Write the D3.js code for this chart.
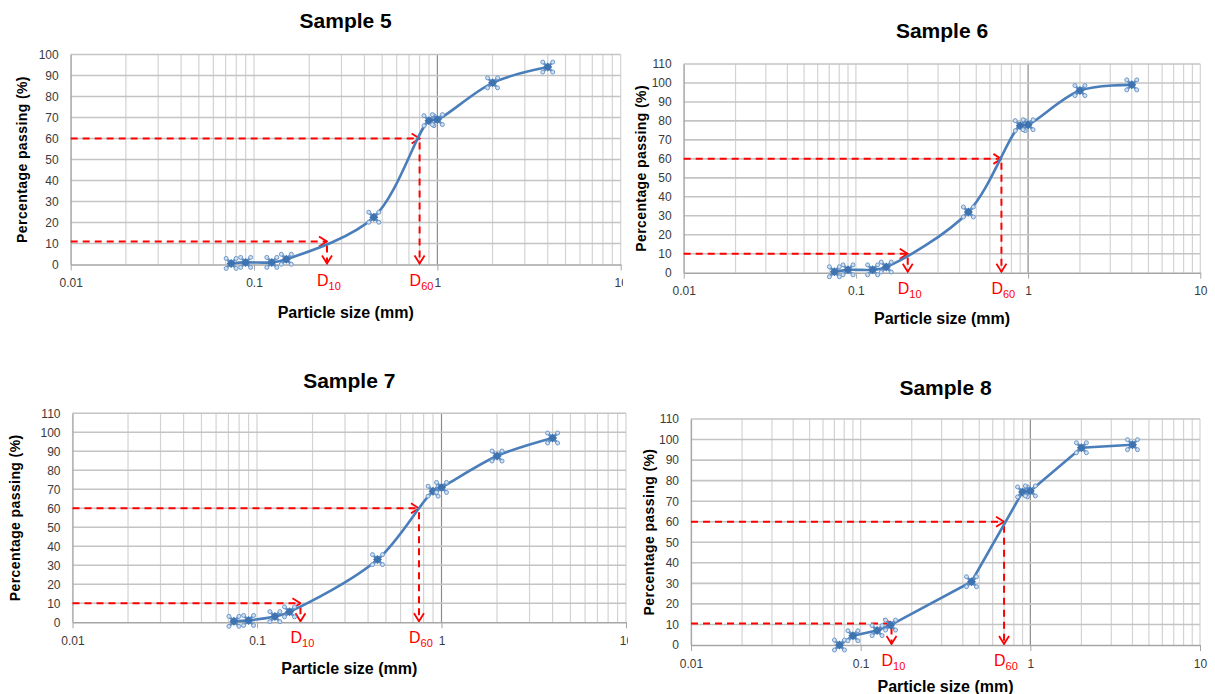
<!DOCTYPE html>
<html>
<head>
<meta charset="utf-8">
<script src="https://cdn.jsdelivr.net/npm/d3@7"></script>
<style>
  body { margin: 0; background: #fff; }
  svg text { font-family: 'Liberation Sans Narrow', 'Arial Narrow', sans-serif; }
</style>
</head>
<body>
<svg id="chart" width="1215" height="694"></svg>
<script>
// sieve sizes (mm), shared by all four samples
const sieveSizes = [0.075, 0.09, 0.125, 0.15, 0.45, 0.9, 1.0, 2.0, 4.0]

// percentage passing
const passingSample5 = [0.5, 1, 1, 2.5, 22.5, 68.5, 69, 86.5, 94]
const passingSample6 = [0.5, 1.5, 1.5, 3, 32, 77.5, 78, 96, 99]
const passingSample7 = [0.5, 1, 3, 5.5, 33, 69, 71, 87.5, 97]
const passingSample8 = [0, 4.5, 7, 9.7, 30.8, 74.5, 75, 96, 97.5]

// D10 / D60 construction points: [size (mm), % passing]
const d10Sample5 = [0.25, 11]
const d60Sample5 = [0.8, 60]
const d10Sample6 = [0.2, 10]
const d60Sample6 = [0.7, 60]
const d10Sample7 = [0.172, 10]
const d60Sample7 = [0.755, 60]
const d10Sample8 = [0.152, 10.5]
const d60Sample8 = [0.7, 60]

const xTickValues = [0.01, 0.1, 1, 10]

const panels = [
  { title: 'Sample 5', passing: passingSample5, d10: d10Sample5, d60: d60Sample5, smooth: true, yMax: 100,
    left: 70.7, right: 620.7, top: 54.5, bottom: 264.5, titleY: 28, yTitleX: 27, xTitleY: 318, bg: null },
  { title: 'Sample 6', passing: passingSample6, d10: d10Sample6, d60: d60Sample6, smooth: true, yMax: 110,
    left: 683.7, right: 1200.3, top: 64, bottom: 272.7, titleY: 38, yTitleX: 646, xTitleY: 324, bg: [623, 0, 592, 345] },
  { title: 'Sample 7', passing: passingSample7, d10: d10Sample7, d60: d60Sample7, smooth: true, yMax: 110,
    left: 72.5, right: 626, top: 413.3, bottom: 622.3, titleY: 388, yTitleX: 20, xTitleY: 674, bg: null },
  { title: 'Sample 8', passing: passingSample8, d10: d10Sample8, d60: d60Sample8, smooth: false, yMax: 110,
    left: 691, right: 1200, top: 419, bottom: 645, titleY: 395, yTitleX: 654, xTitleY: 692, bg: [628, 345, 587, 349] }
]

const svg = d3.select('#chart')

// arrow head for the red construction lines
svg.append('defs').append('marker')
  .attr('id', 'chevron')
  .attr('viewBox', '-1 -6 10 12')
  .attr('markerUnits', 'userSpaceOnUse')
  .attr('markerWidth', 10)
  .attr('markerHeight', 12)
  .attr('refX', 8)
  .attr('refY', 0)
  .attr('orient', 'auto')
  .append('path')
  .attr('d', 'M0,-5L8,0L0,5')
  .attr('fill', 'none')
  .attr('stroke', '#ff0000')
  .attr('stroke-width', 1.8)

const drawPanel = p => {
  const g = svg.append('g')

  if (p.bg) {
    g.append('rect')
      .attr('x', p.bg[0]).attr('y', p.bg[1])
      .attr('width', p.bg[2]).attr('height', p.bg[3])
      .attr('fill', '#fff')
  }

  const xScale = d3.scaleLog().domain([0.01, 10]).range([p.left, p.right])
  const yScale = d3.scaleLinear().domain([0, p.yMax]).range([p.bottom, p.top])

  // vertical log gridlines
  const vLines = []
  ;[0.01, 0.1, 1].forEach(dec => d3.range(1, 10).forEach(k => vLines.push(k * dec)))
  vLines.push(10)
  g.append('g').selectAll('line')
    .data(vLines)
    .enter().append('line')
    .attr('x1', d => xScale(d)).attr('x2', d => xScale(d))
    .attr('y1', p.top).attr('y2', p.bottom)
    .attr('stroke', d => Math.abs(d - 1) < 1e-9 ? '#8c8c8c' : '#d3d3d3')
    .attr('stroke-width', 1.2)

  // horizontal gridlines
  const yTicks = d3.range(0, p.yMax + 1, 10)
  g.append('g').selectAll('line')
    .data(yTicks.slice(1))
    .enter().append('line')
    .attr('x1', p.left).attr('x2', p.right)
    .attr('y1', d => yScale(d)).attr('y2', d => yScale(d))
    .attr('stroke', '#c4c4c4')
    .attr('stroke-width', 1.6)

  // axes
  const xAxis = d3.axisBottom(xScale)
    .tickValues(xTickValues)
    .tickFormat(d => String(d))
    .tickSizeInner(6)
    .tickSizeOuter(0)
    .tickPadding(8)
  const xAxisG = g.append('g')
    .attr('transform', `translate(0, ${p.bottom})`)
    .call(xAxis)
  xAxisG.select('.domain').attr('stroke', '#a6a6a6').attr('stroke-width', 1.6)
  xAxisG.selectAll('.tick line').attr('stroke', '#a6a6a6')

  const yAxis = d3.axisLeft(yScale)
    .tickValues(yTicks)
    .tickSize(0)
    .tickPadding(12)
  const yAxisG = g.append('g')
    .attr('transform', `translate(${p.left}, 0)`)
    .call(yAxis)
  yAxisG.select('.domain').attr('stroke', '#a6a6a6').attr('stroke-width', 1.2)

  g.selectAll('.tick text')
    .attr('fill', '#3a3a3a')
    .style('font-size', '12px')

  // titles
  const cx = (p.left + p.right) / 2
  g.append('text')
    .attr('x', cx).attr('y', p.titleY)
    .attr('text-anchor', 'middle')
    .style('font-size', '21px').style('font-weight', 'bold')
    .text(p.title)
  g.append('text')
    .attr('x', cx).attr('y', p.xTitleY)
    .attr('text-anchor', 'middle')
    .style('font-size', '16px').style('font-weight', 'bold')
    .text('Particle size (mm)')
  g.append('text')
    .attr('transform', `translate(${p.yTitleX}, ${(p.top + p.bottom) / 2}) rotate(-90)`)
    .attr('text-anchor', 'middle')
    .style('font-family', 'Liberation Sans, Arial, sans-serif')
    .style('font-size', '14px').style('font-weight', 'bold')
    .style('letter-spacing', '0.4px')
    .text('Percentage passing (%)')

  // red construction lines for D10 and D60
  ;[p.d10, p.d60].forEach(pt => {
    const px = xScale(pt[0])
    const py = yScale(pt[1])
    g.append('line')
      .attr('x1', p.left).attr('y1', py)
      .attr('x2', px).attr('y2', py)
      .attr('stroke', '#ff0000').attr('stroke-width', 2)
      .attr('stroke-dasharray', '7,5')
      .attr('marker-end', 'url(#chevron)')
    g.append('line')
      .attr('x1', px).attr('y1', py + 4)
      .attr('x2', px).attr('y2', yScale(0) - 1)
      .attr('stroke', '#ff0000').attr('stroke-width', 2)
      .attr('stroke-dasharray', '7,5')
      .attr('marker-end', 'url(#chevron)')
  })

  ;[[p.d10, '10'], [p.d60, '60']].forEach(([pt, sub]) => {
    const t = g.append('text')
      .attr('x', xScale(pt[0]) - 10)
      .attr('y', p.bottom + 21)
      .attr('fill', '#ff0000')
      .style('font-size', '16px')
    t.append('tspan').text('D')
    t.append('tspan').attr('dy', 4).style('font-size', '11px').text(sub)
  })

  // grading curve
  const pts = sieveSizes.map((s, i) => [xScale(s), yScale(p.passing[i])])
  g.append('path')
    .datum(pts)
    .attr('fill', 'none')
    .attr('stroke', '#4a7ebb')
    .attr('stroke-width', 2.6)
    .attr('d', d3.line().curve(p.smooth ? d3.curveCatmullRom.alpha(0.5) : d3.curveLinear))

  // markers (Excel style x with selection handles)
  const mk = g.append('g').selectAll('g')
    .data(pts)
    .enter().append('g')
    .attr('transform', d => `translate(${d[0]}, ${d[1]})`)
  mk.append('path')
    .attr('d', 'M-5,-5L5,5M-5,5L5,-5')
    .attr('stroke', '#5b8cc4').attr('stroke-width', 2.6)
  mk.append('path')
    .attr('d', 'M0,-4.5L4.5,0L0,4.5L-4.5,0Z')
    .attr('fill', '#3f73b0')
  ;[[-5, -5], [5, -5], [-5, 5], [5, 5]].forEach(c => {
    mk.append('circle')
      .attr('cx', c[0]).attr('cy', c[1]).attr('r', 2)
      .attr('fill', '#cfe0f3').attr('stroke', '#6f98c8').attr('stroke-width', 1)
  })
}

panels.forEach(drawPanel)
</script>
</body>
</html>
